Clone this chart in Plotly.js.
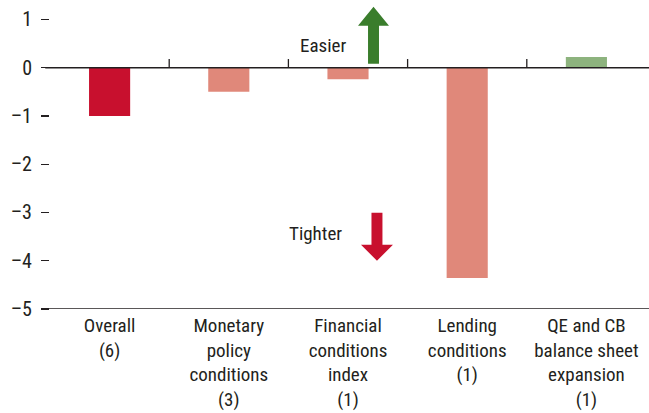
<!DOCTYPE html>
<html><head><meta charset="utf-8">
<script src="https://cdn.plot.ly/plotly-3.0.1.min.js"></script>
<style>html,body{margin:0;padding:0;background:#fff}#chart{width:649px;height:413px}</style>
</head><body><div id="chart"></div>
<script>
const categories = ["Overall<br>(6)", "Monetary<br>policy<br>conditions<br>(3)", "Financial<br>conditions<br>index<br>(1)", "Lending<br>conditions<br>(1)", "QE and CB<br>balance sheet<br>expansion<br>(1)"];
const values = [-1.0, -0.5, -0.24, -4.36, 0.22];
const barColors = ["#C8102E", "#E0887A", "#E0887A", "#E0887A", "#8DB37E"];
const yTicks = [1, 0, -1, -2, -3, -4, -5];

const FONT = "'Liberation Sans Narrow', 'Arial Narrow', 'Roboto Condensed', 'Liberation Sans', sans-serif";
const idx = categories.map((c, i) => i);

const shapes = [];
shapes.push({type:'line', xref:'paper', yref:'y', x0:-0.008, x1:1.01, y0:0, y1:0, line:{color:'#231F20', width:1.3}});
shapes.push({type:'line', xref:'paper', yref:'y', x0:-0.008, x1:1.01, y0:-5, y1:-5, line:{color:'#231F20', width:1.3}});
for (let i = 0; i < categories.length - 1; i++) {
  shapes.push({type:'line', xref:'x', yref:'y', x0:i+0.5, x1:i+0.5, y0:0, y1:0.18, line:{color:'#231F20', width:1.3}});
}
function arrowPath(cx, shaftHalf, headHalf, yBase, yHeadBase, yTip) {
  return `M ${cx-shaftHalf} ${yBase} L ${cx-shaftHalf} ${yHeadBase} L ${cx-headHalf} ${yHeadBase} L ${cx} ${yTip} L ${cx+headHalf} ${yHeadBase} L ${cx+shaftHalf} ${yHeadBase} L ${cx+shaftHalf} ${yBase} Z`;
}
shapes.push({type:'path', xref:'x', yref:'y', path: arrowPath(2.214, 0.046, 0.13, 0.083, 0.87, 1.264), fillcolor:'#3A7D2C', line:{width:0}});
shapes.push({type:'path', xref:'x', yref:'y', path: arrowPath(2.243, 0.046, 0.134, -3.005, -3.668, -4.0), fillcolor:'#C8102E', line:{width:0}});

const data = [{
  type:'bar', x: idx, y: values, width: 0.345,
  marker:{color: barColors, line:{width:0}},
  hoverinfo:'skip'
}];

const layout = {
  width:649, height:413,
  margin:{l:50, r:3, t:5, b:104},
  paper_bgcolor:'#fff', plot_bgcolor:'#fff',
  showlegend:false,
  font:{family:FONT, size:19, color:'#231F20'},
  xaxis:{range:[-0.5, 4.5], tickmode:'array', tickvals: idx, ticktext: categories,
         showgrid:false, zeroline:false, showline:false, ticks:'', ticklabelstandoff:3,
         tickfont:{family:FONT, size:19, color:'#231F20'}, fixedrange:true},
  yaxis:{range:[-5, 1.3], tickmode:'array', tickvals: yTicks, ticktext: yTicks.map(v => v < 0 ? '\u2013' + Math.abs(v) : String(v)),
         showgrid:false, zeroline:false, showline:false, ticks:'outside', ticklen:8, tickwidth:1.3, tickcolor:'#231F20',
         ticklabelstandoff:5,
         tickfont:{family:FONT, size:20, color:'#231F20'}, fixedrange:true},
  shapes: shapes,
  annotations:[
    {xref:'x', yref:'y', x:2.0, y:0.47, text:'Easier', showarrow:false, xanchor:'right', font:{family:FONT, size:19, color:'#231F20'}},
    {xref:'x', yref:'y', x:1.97, y:-3.43, text:'Tighter', showarrow:false, xanchor:'right', font:{family:FONT, size:19, color:'#231F20'}}
  ]
};
Plotly.newPlot('chart', data, layout, {displayModeBar:false, staticPlot:true});
</script></body></html>
